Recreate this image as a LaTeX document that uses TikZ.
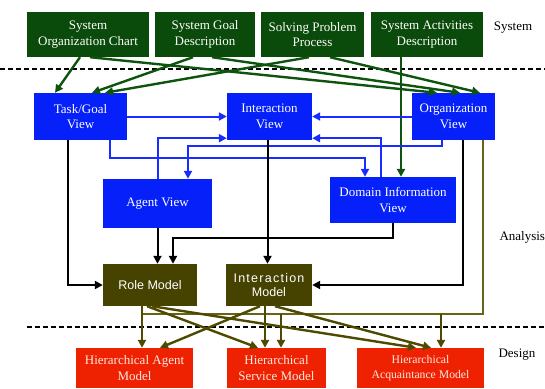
\documentclass[tikz,border=0pt]{standalone}
\usepackage{fontspec}
\setmainfont{Liberation Serif}
\newfontfamily\sansf{Liberation Sans}
\newfontfamily\sansls{Liberation Sans}[LetterSpace=10]
\usetikzlibrary{arrows.meta}
\definecolor{sysgreen}{RGB}{10,74,10}
\definecolor{arrgreen}{RGB}{14,84,14}
\definecolor{viewblue}{RGB}{6,32,250}
\definecolor{arrblue}{RGB}{24,44,255}
\definecolor{modolive}{RGB}{70,66,0}
\definecolor{arrolive}{RGB}{78,74,0}
\definecolor{thinolive}{RGB}{105,100,20}
\definecolor{desred}{RGB}{238,34,0}
\definecolor{redtext}{RGB}{255,232,226}
\begin{document}
\begin{tikzpicture}[x=1pt,y=-1pt,
  every node/.style={font=\fontsize{13}{15.5}\selectfont},
  box/.style={inner sep=0pt, align=center, text=white},
  sysbox/.style={box, fill=sysgreen, minimum height=45pt},
  viewbox/.style={box, fill=viewblue},
  modbox/.style={box, fill=modolive, minimum height=42pt, minimum width=90pt},
  desbox/.style={box, fill=desred, text=redtext, minimum height=40pt},
  tip/.style={-{Triangle[length=8pt,width=8pt]}},
  garr/.style={tip, draw=arrgreen, line width=2.4pt},
  barr/.style={tip, draw=arrblue, line width=2pt},
  karr/.style={tip, draw=black, line width=2pt},
  oarr/.style={tip, draw=arrolive, line width=2.4pt},
  othin/.style={draw=thinolive, line width=1.2pt},
  sep/.style={draw=black, line width=1.8pt, dash pattern=on 5pt off 3pt},
  lbl/.style={text=black}
]
\useasboundingbox (0,0) rectangle (545,388);

% separators
\coordinate (s1l) at (0,69);
\coordinate (s1r) at (545,69);
\coordinate (s2l) at (27,327);
\coordinate (s2r) at (545,327);
\draw[sep] (s1l) -- (s1r);
\draw[sep] (s2l) -- (s2r);

% system row
\node[sysbox, minimum width=122pt] (B1) at (88,34.5) {System\\Organization Chart};
\node[sysbox, minimum width=100pt] (B2) at (205,34.5) {System Goal\\Description};
\node[sysbox, minimum width=103pt] (B3) at (312.5,34.5) {Solving Problem\\Process};
\node[sysbox, minimum width=112pt] (B4) at (427,34.5) {System Activities\\Description};

% analysis views
\node[viewbox, minimum width=93pt, minimum height=47pt] (TG) at (80.5,116.5) {Task/Goal\\View};
\node[viewbox, minimum width=85pt, minimum height=47pt] (IV) at (269.5,116.5) {Interaction\\View};
\node[viewbox, minimum width=83pt, minimum height=47pt] (OV) at (453.5,116.5) {Organization\\View};
\node[viewbox, minimum width=109pt, minimum height=49pt] (AV) at (157.5,203.5) {Agent View};
\node[viewbox, minimum width=126pt, minimum height=46pt] (DI) at (393,200) {Domain Information\\View};

% models
\node[modbox, minimum width=94pt] (RM) at (150,285) {\sansf\fontsize{12.5}{15}\selectfont Role Model};
\node[modbox, minimum width=86pt] (IM) at (269,285) {\sansls\fontsize{12.5}{15}\selectfont Interaction\\[-1pt]\sansf\fontsize{12.5}{15}\selectfont Model};

% design
\node[desbox, minimum width=117pt] (HA) at (134.5,368) {Hierarchical Agent\\Model};
\node[desbox, minimum width=99pt] (HS) at (276.5,368) {Hierarchical\\Service Model};
\node[desbox, minimum width=127pt, font=\fontsize{11.7}{15}\selectfont] (HQ) at (420.5,368) {Hierarchical\\Acquaintance Model};

% side labels
\node[lbl] (Lsys) at (513,28) {System};
\node[lbl, anchor=west] (Lana) at (496,237) {Analysis};
\node[lbl, anchor=west] (Ldes) at (495,355) {Design};

% green arrows
\draw[garr] ([xshift=-8pt]B1.south) -- ([xshift=-25.5pt]TG.north);
\draw[garr] ([xshift=2pt]B1.south) -- ([xshift=-16.5pt]OV.north);
\draw[garr] ([xshift=-12pt]B2.south) -- ([xshift=11.5pt]TG.north);
\draw[garr] ([xshift=7pt]B2.south) -- ([xshift=6.5pt]OV.north);
\draw[garr] ([xshift=-3.5pt]B3.south) -- ([xshift=24.5pt]TG.north);
\draw[garr] ([xshift=17.5pt]B3.south) -- ([xshift=26.5pt]OV.north);
\draw[garr] ([xshift=-26pt]B4.south) -- ([xshift=-26pt]B4.south |- DI.north);

% blue arrows
\draw[barr] (TG.east) -- (IV.west);
\draw[barr] (OV.west) -- (IV.east);
\draw[barr] (AV.north) |- ([yshift=2pt]IV.south west);
\draw[barr] ([xshift=-12pt]DI.north) |- ([yshift=2pt]IV.south east);
\draw[barr] ([xshift=-11.5pt]OV.south) -- ++(0,6) -| ([xshift=30.5pt]AV.north);
\draw[barr] ([xshift=29.5pt]TG.south) -- ++(0,18) -| ([xshift=-28pt]DI.north);

% black arrows
\draw[karr] (AV.south) -- (AV.south |- RM.north);
\draw[karr] (DI.south) -- ++(0,15) -| ([xshift=23pt]RM.north);
\draw[karr] ([xshift=-2pt]IV.south) -- ([xshift=-2pt]IV.south |- IM.north);
\draw[karr] ([xshift=-12.5pt]TG.south) |- (RM.west);
\draw[karr] ([xshift=9.5pt]OV.south) |- (IM.east);

% olive bus from organization view
\coordinate (bus) at (142,314);
\coordinate (d1) at (281,314);
\coordinate (d2) at (441,314);
\draw[othin] ([xshift=29.5pt]OV.south) |- (bus);
\draw[oarr] (d1) -- (d1 |- HS.north);
\draw[oarr] (d2) -- (d2 |- HQ.north);

% olive arrows from models
\draw[oarr] ([xshift=-8pt]RM.south) -- ([xshift=7.5pt]HA.north);
\draw[oarr] ([xshift=-3pt]RM.south) -- ([xshift=-18.5pt]HS.north);
\draw[oarr] ([xshift=2pt]RM.south) -- ([xshift=-4.5pt]HQ.north);
\draw[oarr] ([xshift=-9pt]IM.south) -- ([xshift=25.5pt]HA.north);
\draw[oarr] ([xshift=-4pt]IM.south) -- ([xshift=-11.5pt]HS.north);
\draw[oarr] ([xshift=6pt]IM.south) -- ([xshift=10.5pt]HQ.north);
\end{tikzpicture}
\end{document}
